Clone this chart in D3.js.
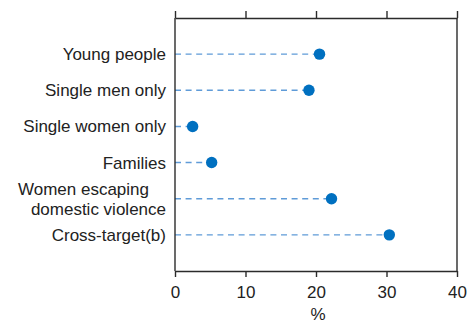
<!DOCTYPE html>
<html>
<head>
<meta charset="utf-8">
<script src="https://cdn.jsdelivr.net/npm/d3@7"></script>
<style>
  html, body { margin: 0; padding: 0; background: #fff; }
  svg { display: block; font-family: "Liberation Sans", Arial, sans-serif; }
</style>
</head>
<body>
<svg id="chart" width="468" height="323"></svg>
<script>
// Share of each target group (%)
const categories = [
  ["Young people"],
  ["Single men only"],
  ["Single women only"],
  ["Families"],
  ["Women escaping", "domestic violence"],
  ["Cross-target(b)"]
];
const values = [20.5, 19.0, 2.5, 5.2, 22.2, 30.4];
const xTicks = [0, 10, 20, 30, 40];
const xLabel = "%";

const margin = { top: 18, right: 11, bottom: 52, left: 175 };
const width = 468, height = 323;
const fontSize = 17;

const svg = d3.select("#chart");
const keys = categories.map(c => c.join(" "));

const x = d3.scaleLinear().domain([0, 40]).range([margin.left, width - margin.right]);
const y = d3.scalePoint().domain(keys).range([margin.top, height - margin.bottom]).padding(1);

const axisColor = "#2b2b2b";
const textColor = "#222";

// Dashed leader lines from the axis to each dot
svg.append("g").selectAll("line")
  .data(values)
  .join("line")
  .attr("x1", x(0))
  .attr("x2", d => x(d))
  .attr("y1", (d, i) => y(keys[i]))
  .attr("y2", (d, i) => y(keys[i]))
  .attr("stroke", "#5f9bd8")
  .attr("stroke-width", 1.4)
  .attr("stroke-dasharray", "6,4.6");

// Dots
svg.append("g").selectAll("circle")
  .data(values)
  .join("circle")
  .attr("cx", d => x(d))
  .attr("cy", (d, i) => y(keys[i]))
  .attr("r", 5.7)
  .attr("fill", "#0070c0");

// Frame: left and right edges
[x(0), x(40)].forEach(px => {
  svg.append("line")
    .attr("x1", px).attr("x2", px)
    .attr("y1", margin.top).attr("y2", height - margin.bottom)
    .attr("stroke", axisColor).attr("stroke-width", 1.4);
});

// Top axis (ticks only)
const topAxis = svg.append("g")
  .attr("transform", `translate(0,${margin.top})`)
  .call(d3.axisTop(x).tickValues(xTicks).tickSize(7).tickSizeOuter(0).tickFormat(""));
topAxis.select(".domain").attr("stroke", axisColor).attr("stroke-width", 1.4);
topAxis.selectAll(".tick line").attr("stroke", axisColor).attr("stroke-width", 1.4);

// Bottom axis
const bottomAxis = svg.append("g")
  .attr("transform", `translate(0,${height - margin.bottom})`)
  .call(d3.axisBottom(x).tickValues(xTicks).tickSize(6).tickSizeOuter(0).tickPadding(9));
bottomAxis.select(".domain").attr("stroke", axisColor).attr("stroke-width", 1.4);
bottomAxis.selectAll(".tick line").attr("stroke", axisColor).attr("stroke-width", 1.4);
bottomAxis.selectAll(".tick text")
  .attr("font-size", fontSize)
  .attr("font-family", "Liberation Sans, Arial, sans-serif")
  .attr("fill", textColor);

// Axis title
svg.append("text")
  .attr("x", (x(0) + x(40)) / 2 + 2)
  .attr("y", height - 3)
  .attr("text-anchor", "middle")
  .attr("font-size", fontSize)
  .attr("fill", textColor)
  .text(xLabel);

// Category labels
const labels = svg.append("g").selectAll("text")
  .data(categories)
  .join("text")
  .attr("text-anchor", "end")
  .attr("font-size", fontSize)
  .attr("fill", textColor);

labels.each(function (lines, i) {
  const t = d3.select(this);
  const cy = y(keys[i]);
  const n = lines.length;
  lines.forEach((line, j) => {
    t.append("tspan")
      .attr("x", x(0) - 9 - (n > 1 && j === 0 ? 17 : 0))
      .attr("y", cy + 6 + (j - (n - 1) / 2) * 20)
      .text(line);
  });
});
</script>
</body>
</html>
